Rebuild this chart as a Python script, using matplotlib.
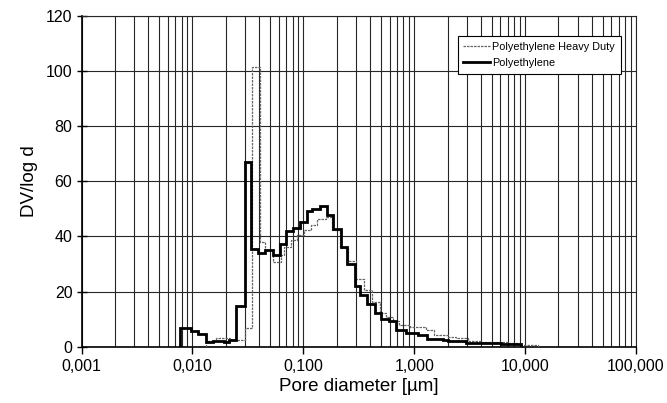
import numpy as np
import matplotlib.pyplot as plt
from matplotlib.ticker import FixedLocator, FixedFormatter, LogLocator, NullFormatter

plt.rcParams['font.family'] = ['Liberation Sans', 'DejaVu Sans']

# Polyethylene (bold) - bin edges in um and DV/log d
pe_edges = [0.00777, 0.00971, 0.01114, 0.01336, 0.01545, 0.01943, 0.02157, 0.02479,
            0.02965, 0.03387, 0.03886, 0.04561, 0.05311, 0.06105, 0.06918, 0.08123,
            0.09318, 0.1071, 0.1206, 0.1404, 0.1624, 0.1867, 0.2207, 0.2499, 0.2928,
            0.3249, 0.3790, 0.4412, 0.5051, 0.5943, 0.6831, 0.8414, 1.087, 1.302,
            1.806, 2.017, 2.935, 3.766, 6.08, 9.22]
pe_vals = [6.9, 5.7, 4.6, 1.6, 2.0, 1.8, 2.4, 14.8, 66.9, 35.3, 33.9, 35.1, 33.3,
           37.2, 42.0, 43.0, 45.4, 49.3, 49.9, 51.2, 47.8, 42.6, 36.1, 29.9, 22.1,
           18.8, 15.4, 12.1, 10.0, 9.3, 6.0, 5.1, 4.2, 2.8, 2.4, 2.2, 1.5, 1.2, 0.8]

# Polyethylene Heavy Duty (thin)
hd_edges = [0.01336, 0.01645, 0.02203, 0.03009, 0.03458, 0.04051, 0.04561, 0.05357,
            0.06234, 0.06678, 0.07677, 0.08826, 0.1013, 0.1164, 0.1338, 0.1591,
            0.1829, 0.2142, 0.2515, 0.2971, 0.3531, 0.4206, 0.4927, 0.5547, 0.6378,
            0.7317, 0.9201, 1.276, 1.516, 2.004, 2.382, 3.040, 4.010, 5.256, 6.99,
            8.61, 13.14]
hd_vals = [2.2, 3.0, 2.6, 6.7, 101.4, 38.1, 35.1, 30.9, 33.3, 36.3, 38.7, 40.5,
           42.3, 44.2, 46.2, 47.2, 42.3, 35.7, 31.0, 24.5, 20.6, 16.3, 12.3, 10.7,
           9.4, 7.9, 7.0, 6.1, 4.2, 3.6, 3.0, 2.1, 1.8, 1.6, 1.2, 0.6]

xticks = [0.001, 0.01, 0.1, 1, 10, 100]
xlabels = ['0,001', '0,010', '0,100', '1,000', '10,000', '100,000']
yticks = [0, 20, 40, 60, 80, 100, 120]

fig = plt.figure(figsize=(6.67, 4.03), dpi=100)
ax = fig.add_axes([0.1222, 0.1397, 0.8313, 0.8206])

ax.stairs(hd_vals, hd_edges, baseline=0, color='0.4', lw=0.9,
          linestyle=(0, (2, 0.8)), label='Polyethylene Heavy Duty', zorder=3)
ax.stairs(pe_vals, pe_edges, baseline=0, color='black', lw=2.0,
          label='Polyethylene', zorder=4)

ax.set_xscale('log')
ax.set_xlim(0.001, 100)
ax.set_ylim(0, 120)
ax.xaxis.set_major_locator(FixedLocator(xticks))
ax.xaxis.set_major_formatter(FixedFormatter(xlabels))
ax.xaxis.set_minor_locator(LogLocator(base=10, subs=np.arange(2, 10)))
ax.xaxis.set_minor_formatter(NullFormatter())
ax.set_yticks(yticks)

ax.grid(True, which='both', axis='x', color='0.15', lw=0.8)
ax.grid(True, which='major', axis='y', color='0.15', lw=0.8)
ax.set_axisbelow(True)

ax.tick_params(axis='x', which='major', direction='out', length=5, width=1, labelsize=11.5, pad=4)
ax.tick_params(axis='x', which='minor', length=0)
ax.tick_params(axis='y', direction='inout', length=7, width=1, labelsize=11.5, pad=3)

for s in ['left', 'bottom']:
    ax.spines[s].set_linewidth(1.2)
for s in ['top', 'right']:
    ax.spines[s].set_linewidth(0.8)
    ax.spines[s].set_color('0.15')

ax.set_xlabel('Pore diameter [µm]', fontsize=13.5, labelpad=3)
ax.set_ylabel('DV/log d', fontsize=13.5, labelpad=6)

leg = ax.legend(loc='upper right', bbox_to_anchor=(0.982, 0.955), fontsize=7.8,
                frameon=True, fancybox=False, edgecolor='black', framealpha=1,
                handlelength=2.5, handletextpad=0.2, borderpad=0.5, labelspacing=0.6)
leg.get_frame().set_linewidth(0.8)

fig.savefig('out.png', dpi=100)
